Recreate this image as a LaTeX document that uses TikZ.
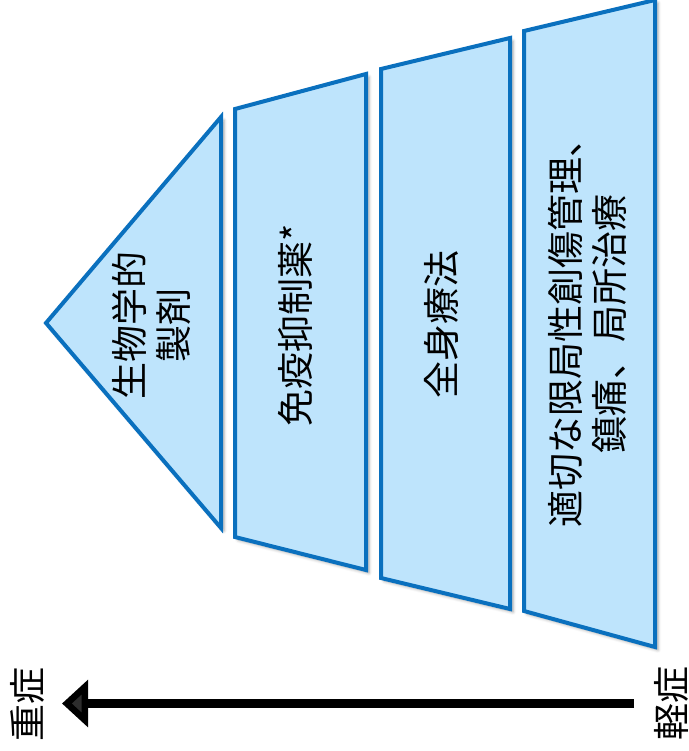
\documentclass[tikz,border=0pt]{standalone}
\usepackage{fontspec}
\setmainfont{Noto Sans CJK JP}
\usetikzlibrary{arrows.meta,shadows.blur}
\definecolor{boxfill}{RGB}{190,228,252}
\definecolor{boxline}{RGB}{10,112,190}
\tikzset{
  tier/.style={draw=boxline, fill=boxfill, line width=4pt, line join=miter,
    blur shadow={shadow xshift=3pt, shadow yshift=-3pt, shadow blur radius=3pt, shadow opacity=35}},
  lbl/.style={rotate=90, align=center, inner sep=0pt, text=black,
    font=\fontsize{37}{44}\selectfont},
  sidelbl/.style={rotate=90, inner sep=0pt, text=black,
    font=\fontsize{37}{44}\selectfont},
  bigarrow/.style={line width=9.5pt, -{Triangle[length=26pt,width=46pt]}}
}
\begin{document}
\begin{tikzpicture}[x=1pt,y=-1pt]
\useasboundingbox (0,0) rectangle (688,751);
% tier shapes
\coordinate (a1) at (46,323);
\coordinate (a2) at (221,117);
\coordinate (a3) at (221,528);
\coordinate (b1) at (235,109);
\coordinate (b2) at (366,74);
\coordinate (b3) at (366,570);
\coordinate (b4) at (235,537);
\coordinate (c1) at (381,69);
\coordinate (c2) at (510,38);
\coordinate (c3) at (510,609);
\coordinate (c4) at (381,578);
\coordinate (d1) at (524,31);
\coordinate (d2) at (655,0);
\coordinate (d3) at (655,647);
\coordinate (d4) at (524,611);
\draw[tier] (a1) -- (a2) -- (a3) -- cycle;
\draw[tier] (b1) -- (b2) -- (b3) -- (b4) -- cycle;
\draw[tier] (c1) -- (c2) -- (c3) -- (c4) -- cycle;
\draw[tier] (d1) -- (d2) -- (d3) -- (d4) -- cycle;
% labels
\node[lbl] (ta) at (151,325) {生物学的\\製剤};
\node[lbl] (tb) at (295,325) {免疫抑制薬*};
\node[lbl] (tc) at (441,324) {全身療法};
\node[lbl] (td) at (587,324) {適切な限局性創傷管理、\\鎮痛、局所治療};
% severity arrow
\coordinate (arrS) at (634,703.5);
\coordinate (arrE) at (62,703.5);
\draw[bigarrow] (arrS) -- (arrE);
\node[sidelbl] (heavy) at (27,704) {重症};
\node[sidelbl] (light) at (671,703) {軽症};
\end{tikzpicture}
\end{document}
